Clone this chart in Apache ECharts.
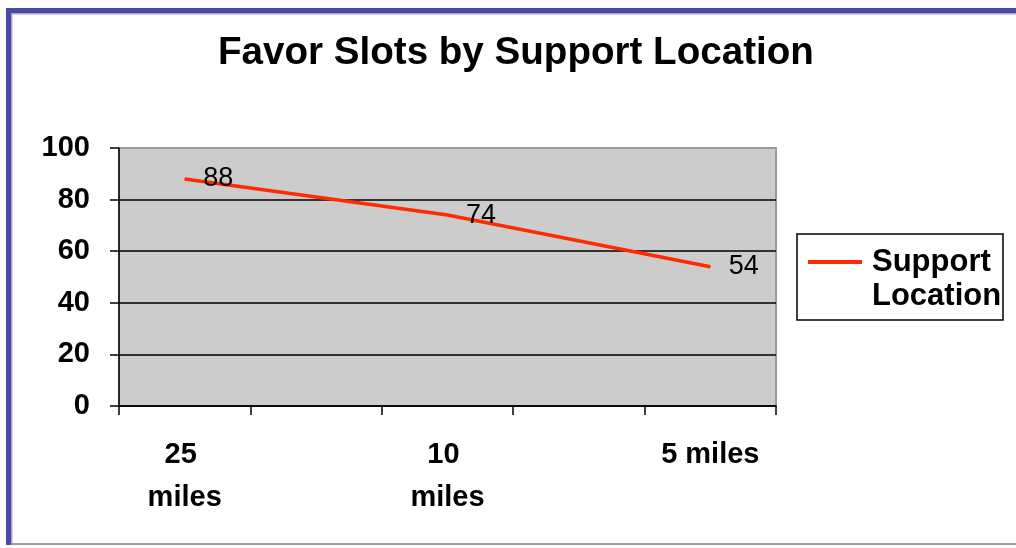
<!DOCTYPE html>
<html>
<head>
<meta charset="utf-8">
<script src="https://cdn.jsdelivr.net/npm/echarts@6/dist/echarts.min.js"></script>
<style>
html,body{margin:0;padding:0;background:#fff;}
#chart{width:1016px;height:548px;}
</style>
</head>
<body>
<div id="chart"></div>
<script>
const titleText = 'Favor Slots by Support Location';
const seriesName = 'Support Location';
const categories = ['25 miles', '10 miles', '5 miles'];
const values = [88, 74, 54];
const yTicks = [0, 20, 40, 60, 80, 100];

// Excel-style axis: each category spans two tick intervals
const axisData = [];
const seriesData = [];
categories.forEach((c, i) => {
  axisData.push(c);
  seriesData.push(values[i]);
  if (i < categories.length - 1) { axisData.push(''); seriesData.push('-'); }
});

const chart = echarts.init(document.getElementById('chart'), null, {renderer: 'canvas'});
const font = "'Liberation Sans', Arial, sans-serif";
chart.setOption({
  animation: false,
  backgroundColor: '#ffffff',
  title: {
    text: titleText,
    left: 218,
    top: 31,
    padding: 0,
    textStyle: {fontFamily: font, fontSize: 38.6, fontWeight: 'bold', color: '#000', lineHeight: 44}
  },
  legend: {
    left: 808,
    top: 211,
    padding: 0,
    itemWidth: 54,
    itemHeight: 4,
    itemGap: 0,
    icon: 'rect',
    data: [seriesName],
    // blank first line keeps the first text line level with the legend line
    formatter: n => ' \n' + n.replace(' ', '\n'),
    textStyle: {fontFamily: font, fontSize: 31, fontWeight: 'bold', color: '#000', lineHeight: 34, padding: [0, 0, 0, 5]}
  },
  grid: {
    left: 119, right: 240, top: 148, bottom: 142,
    show: true, backgroundColor: '#cccccc', borderColor: '#9a9a9a', borderWidth: 2
  },
  xAxis: {
    type: 'category',
    data: axisData,
    boundaryGap: true,
    axisLine: {lineStyle: {color: '#000', width: 1.5}},
    axisTick: {show: true, inside: false, length: 9, interval: 0, alignWithLabel: false, lineStyle: {color: '#000', width: 1.5}},
    axisLabel: {
      interval: 0, margin: 27, color: '#000', fontFamily: font, fontSize: 29, fontWeight: 'bold',
      lineHeight: 43, width: 104, overflow: 'break'
    },
    splitLine: {show: false}
  },
  yAxis: {
    type: 'value',
    min: yTicks[0], max: yTicks[yTicks.length - 1], interval: yTicks[1] - yTicks[0],
    axisLine: {show: true, lineStyle: {color: '#000', width: 1.5}},
    axisTick: {show: true, length: 9, lineStyle: {color: '#000', width: 1.5}},
    axisLabel: {margin: 29, color: '#000', fontFamily: font, fontSize: 29, fontWeight: 'bold'},
    splitLine: {show: true, showMaxLine: false, lineStyle: {color: '#000', width: 1.5}}
  },
  series: [{
    name: seriesName,
    type: 'line',
    data: seriesData,
    connectNulls: true,
    symbol: 'circle',
    symbolSize: 1,
    itemStyle: {color: '#ff2a00'},
    lineStyle: {color: '#ff2a00', width: 3.5},
    label: {
      show: true, position: 'right', distance: 18,
      color: '#000', fontFamily: font, fontSize: 27
    }
  }],
  graphic: [
    {type: 'rect', shape: {x: 6, y: 8, width: 1010, height: 5}, style: {fill: '#4848a8'}, silent: true},
    {type: 'rect', shape: {x: 6, y: 8, width: 5, height: 537}, style: {fill: '#4848a8'}, silent: true},
    {type: 'rect', shape: {x: 11, y: 13, width: 1005, height: 1.5}, style: {fill: '#a8a8b8'}, silent: true},
    {type: 'rect', shape: {x: 11, y: 13, width: 1.5, height: 530}, style: {fill: '#a8a8b8'}, silent: true},
    {type: 'rect', shape: {x: 11, y: 543, width: 1005, height: 2}, style: {fill: '#9a9ab0'}, silent: true},
    {type: 'rect', shape: {x: 797, y: 234, width: 206, height: 86}, style: {fill: 'none', stroke: '#000', lineWidth: 1.5}, silent: true}
  ]
});
</script>
</body>
</html>
